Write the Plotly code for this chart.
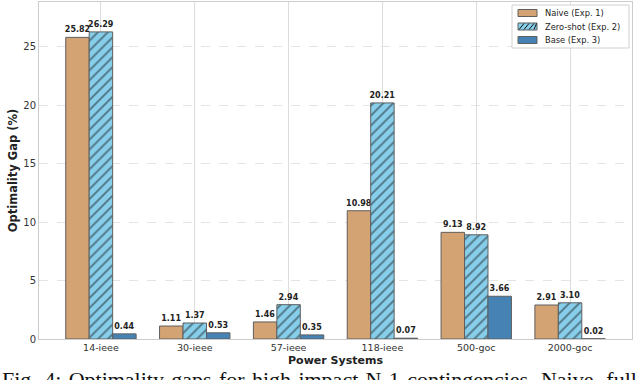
import plotly.graph_objects as go

systems = ["14-ieee", "30-ieee", "57-ieee", "118-ieee", "500-goc", "2000-goc"]
naive = [25.82, 1.11, 1.46, 10.98, 9.13, 2.91]
zero_shot = [26.29, 1.37, 2.94, 20.21, 8.92, 3.10]
base = [0.44, 0.53, 0.35, 0.07, 3.66, 0.02]
series_names = ["Naive (Exp. 1)", "Zero-shot (Exp. 2)", "Base (Exp. 3)"]
y_ticks = [0, 5, 10, 15, 20, 25]

FONT = "DejaVu Sans"
C_NAIVE, C_ZERO, C_BASE = "#D4A373", "#87CEEB", "#4682B4"
EDGE = "#5f5f5f"
edge = dict(color=EDGE, width=1)
tfont = dict(family=FONT, size=8, color="#222222", weight="bold")

# plot area in pixels (for legend placement helpers)
L, R, T, B = 39, 632, 2, 339
W, H = 640, 380


def px(xp):
    return (xp - L) / (R - L)


def py(yp):
    return (B - yp) / (B - T)


fig = go.Figure()
fig.add_trace(go.Bar(
    x=systems, y=naive, name=series_names[0],
    marker=dict(color=C_NAIVE, line=edge),
    text=[f"{v:.2f}" for v in naive], textposition="outside",
    textfont=tfont, constraintext="none", cliponaxis=False, textangle=0,
))
fig.add_trace(go.Bar(
    x=systems, y=zero_shot, name=series_names[1],
    marker=dict(color=C_ZERO, line=edge,
                pattern=dict(shape="/", fgcolor="#111111", bgcolor=C_ZERO,
                             size=7, solidity=0.25)),
    text=[f"{v:.2f}" for v in zero_shot], textposition="outside",
    textfont=tfont, constraintext="none", cliponaxis=False, textangle=0,
))
fig.add_trace(go.Bar(
    x=systems, y=base, name=series_names[2],
    marker=dict(color=C_BASE, line=edge),
    text=[f"{v:.2f}" for v in base], textposition="outside",
    textfont=tfont, constraintext="none", cliponaxis=False, textangle=0,
))

fig.update_layout(
    width=W, height=H,
    margin=dict(l=L, r=W - R, t=T, b=H - B, autoexpand=False),
    paper_bgcolor="white", plot_bgcolor="white",
    barmode="group", bargap=0.25, bargroupgap=0,
    font=dict(family=FONT, size=9, color="#333333"),
    showlegend=False,
    xaxis=dict(
        range=[-0.66, 5.66], automargin=False,
        showgrid=True, gridcolor="#dcdcdc", gridwidth=1,
        showline=True, linecolor="#cccccc", mirror=True, linewidth=1,
        ticks="", tickfont=dict(size=9.5, color="#333333"),
        title=dict(text="<b>Power Systems</b>", font=dict(size=11, color="#222222"), standoff=3),
    ),
    yaxis=dict(
        range=[0, 28.85], automargin=False,
        tickvals=y_ticks,
        showgrid=True, gridcolor="#e4e4e4", gridwidth=1, griddash="dash",
        showline=True, linecolor="#cccccc", mirror=True, linewidth=1,
        zeroline=False, ticks="", tickfont=dict(size=10, color="#333333"),
        title=dict(text="<b>Optimality Gap (%)</b>", font=dict(size=11.5, color="#222222"), standoff=3),
    ),
)

# legend (drawn manually to match compact matplotlib spacing)
shapes = [dict(type="rect", xref="paper", yref="paper",
               x0=px(512), x1=px(629), y0=py(48), y1=py(5),
               fillcolor="white", line=dict(color="#d0d0d0", width=1), layer="above")]
rows = [13, 26.5, 40]
fills = [C_NAIVE, C_ZERO, C_BASE]
sx0, sx1 = 518, 537
for name, yc, fc in zip(series_names, rows, fills):
    shapes.append(dict(type="rect", xref="paper", yref="paper",
                       x0=px(sx0), x1=px(sx1), y0=py(yc + 3.5), y1=py(yc - 3.5),
                       fillcolor=fc, line=dict(color=EDGE, width=1), layer="above"))
    fig.add_annotation(text=name, xref="paper", yref="paper",
                       x=px(543), y=py(yc), xanchor="left", yanchor="middle",
                       showarrow=False, font=dict(family=FONT, size=8.3, color="#222222"))
# hatch strokes for the zero-shot swatch
yc = rows[1]
for k in range(4):
    x0 = sx0 + 1 + k * 5
    shapes.append(dict(type="line", xref="paper", yref="paper",
                       x0=px(x0), y0=py(yc + 3), x1=px(min(x0 + 5, sx1 - 0.5)), y1=py(yc - 3),
                       line=dict(color="#111111", width=1), layer="above"))
fig.update_layout(shapes=shapes)

gap = "\u00a0\u200a"
caption_words = ["Fig.", "4:", "Optimality", "gaps", "for", "high-impact", "N-1",
                 "contingencies.", "Naive,", "full"]
fig.add_annotation(
    text=gap.join(caption_words),
    xref="paper", yref="paper", x=px(1), y=py(366),
    xanchor="left", yanchor="top", showarrow=False, borderpad=0,
    font=dict(family="Liberation Serif", size=22, color="#111111"),
)

fig.write_html("out.html", config={"displayModeBar": False},
               post_script="document.body.style.margin='0';document.body.style.overflow='hidden';")
